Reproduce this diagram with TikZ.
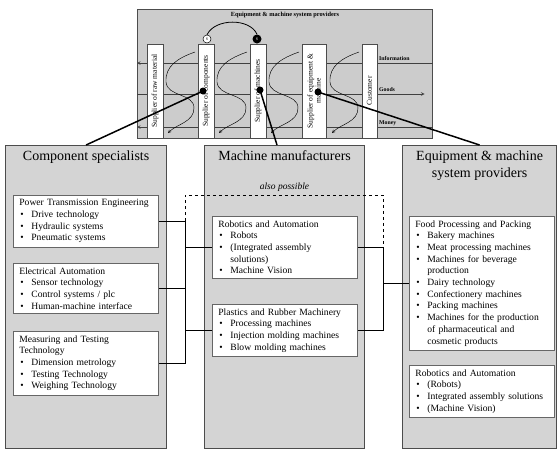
\documentclass[tikz,border=0pt]{standalone}
\usepackage{fontspec}
\setmainfont{Liberation Serif}
\usetikzlibrary{positioning}
\newcommand\bitem[1]{\par\makebox[12pt][l]{\hspace{1pt}\textbullet}%
  \parbox[t]{121pt}{\raggedright #1\par\xdef\bitemdepth{\the\prevdepth}}\par\prevdepth=\bitemdepth\relax}
\begin{document}
\begin{tikzpicture}[x=1pt, y=-1pt,
    bigbox/.style={draw=black!70, fill=black!17, line width=1.2pt, anchor=north west, inner sep=0pt},
    bigtitle/.style={inner sep=0pt, anchor=north, align=center, font=\fontsize{14}{17}\selectfont},
    inbox/.style={draw=black!60, fill=white, line width=0.8pt, anchor=north west, text width=133pt,
        inner xsep=6pt, inner ysep=4pt, align=left, font=\fontsize{9.6}{11.7}\selectfont},
    bar/.style={draw=black!70, fill=white, line width=0.5pt, rotate=90, inner sep=0pt,
        minimum width=94pt, align=center, font=\fontsize{7.5}{8.2}\selectfont},
    flow/.style={draw=black!75, line width=0.6pt},
    flowlab/.style={anchor=base west, inner sep=0pt, font=\bfseries\fontsize{5.8}{6}\selectfont},
    wave/.style={line width=0.45pt, -stealth},
    dot/.style={circle, fill=black, inner sep=0pt, minimum size=7pt},
    link/.style={line width=1.5pt},
    bus/.style={line width=1pt}]
  \useasboundingbox (0,0) rectangle (557,451);

  % the three groups
  \node[bigbox, minimum width=161pt, minimum height=303pt] (comp) at (5,145) {};
  \node[bigbox, minimum width=160pt, minimum height=303pt] (mach) at (204,145) {};
  \node[bigbox, minimum width=154pt, minimum height=303pt] (equip) at (402,145) {};

  % value chain on top
  \node[draw=black!70, fill=black!20, line width=0.6pt, anchor=north west, inner sep=0pt,
        minimum width=295pt, minimum height=129pt] (chain) at (137,9) {};
  \draw[flow, -stealth] (chain.east |- 0,63) -- (chain.west |- 0,63);
  \draw[flow, -stealth, shorten >=8pt] (chain.west |- 0,94) -- (chain.east |- 0,94);
  \draw[flow, -stealth] (chain.east |- 0,127) -- (chain.west |- 0,127);

  \foreach \l/\r in {163/198, 214/250, 266/302, 327/362}
    \draw[wave] (\r-3,52) .. controls (\r-20,58) and (\l+2,66) .. (\l+3,82)
      .. controls (\l+4,97) and (\r-4,93) .. (\r-4,108)
      .. controls (\r-4,122) and (\l+14,124) .. (\l+5,133);

  \node[bar, minimum height=16pt] (raw) at (155,91) {Supplier of raw material};
  \node[bar, minimum height=16pt] (cmp) at (206,91) {Supplier of components};
  \node[bar, minimum height=16pt] (mch) at (258,91) {Supplier of machines};
  \node[bar, minimum height=24pt] (eqp) at (314,91) {Supplier of equipment \&\\machine};
  \node[bar, minimum height=15pt] (cust) at (369.5,91) {Customer};

  \node[circle, draw, fill=white, line width=0.5pt, inner sep=0pt, minimum size=8pt,
        font=\fontsize{4}{4}\selectfont] (sw) at (207,39) {S};
  \node[circle, fill=black, text=white, inner sep=0pt, minimum size=9pt,
        font=\fontsize{4}{4}\selectfont] (sb) at (257,39) {S};
  \draw[line width=0.8pt] (sw.north) .. controls (215,18) and (250,18) .. (sb.north);

  \node[inner sep=0pt, font=\bfseries\fontsize{6.3}{7}\selectfont] (chaint) at (285,15)
    {Equipment \& machine system providers};
  \node[flowlab] (info) at (379,60) {Information};
  \node[flowlab] (goods) at (379,91) {Goods};
  \node[flowlab] (money) at (379,124) {Money};

  \node[dot] (d1) at (203,91) {};
  \node[dot] (d2) at (260,90) {};
  \node[dot] (d3) at (318,92) {};
  \coordinate (machtop) at (277,145);
  \draw[link] (d1.center) -- (comp.north);
  \draw[link] (d2.center) -- (machtop);
  \draw[link] (d3.center) -- (equip.north);

  \node[bigtitle, below=5.5pt of comp.north] (compt) {Component specialists};
  \node[bigtitle, below=5.5pt of mach.north] (macht) {Machine manufacturers};
  \node[bigtitle, below=5.5pt of equip.north] (equipt) {Equipment \& machine\\system providers};

  % branches
  \node[inbox] (pte) at (13,195) {Power Transmission Engineering\bitem{Drive technology}\bitem{Hydraulic systems}\bitem{Pneumatic systems}};
  \node[inbox] (ea) at (13,263) {Electrical Automation\bitem{Sensor technology}\bitem{Control systems / plc}\bitem{Human-machine interface}};
  \node[inbox] (mtt) at (13,331) {Measuring and Testing\\Technology\bitem{Dimension metrology}\bitem{Testing Technology}\bitem{Weighing Technology}};
  \node[inbox] (rob) at (212,216) {Robotics and Automation\bitem{Robots}\bitem{(Integrated assembly\newline solutions)}\bitem{Machine Vision}};
  \node[inbox] (prm) at (212,304) {Plastics and Rubber Machinery\bitem{Processing machines}\bitem{Injection molding machines}\bitem{Blow molding machines}};
  \node[inbox] (food) at (409,216) {Food Processing and Packing\bitem{Bakery machines}\bitem{Meat processing machines}\bitem{Machines for beverage\newline production}\bitem{Dairy technology}\bitem{Confectionery machines}\bitem{Packing machines}\bitem{Machines for the production\newline of pharmaceutical and\newline cosmetic products}};
  \node[inbox] (rob2) at (409,365) {Robotics and Automation\bitem{(Robots)}\bitem{Integrated assembly solutions}\bitem{(Machine Vision)}};

  % supply relations
  \coordinate (busL) at (185,0);
  \coordinate (busR) at (383,0);
  \draw[bus] (pte.east) -- (pte.east -| busL) -- (mtt.east -| busL) -- (mtt.east);
  \draw[bus] (ea.east) -- (ea.east -| busL);
  \draw[bus] (rob.west -| busL) -- (rob.west);
  \draw[bus] (prm.west -| busL) -- (prm.west);
  \draw[bus] (rob.east) -- (rob.east -| busR) -- (prm.east -| busR) -- (prm.east);
  \draw[bus] (food.west -| busR) -- (food.west);
  \draw[dashed, line width=0.7pt] (pte.east -| busL) -- (busL |- 0,195) -- (busR |- 0,195) -- (rob.east -| busR);
  \node[font=\itshape\fontsize{9.5}{10}\selectfont, inner sep=0pt] (also) at (284.5,187) {also possible};
\end{tikzpicture}
\end{document}
